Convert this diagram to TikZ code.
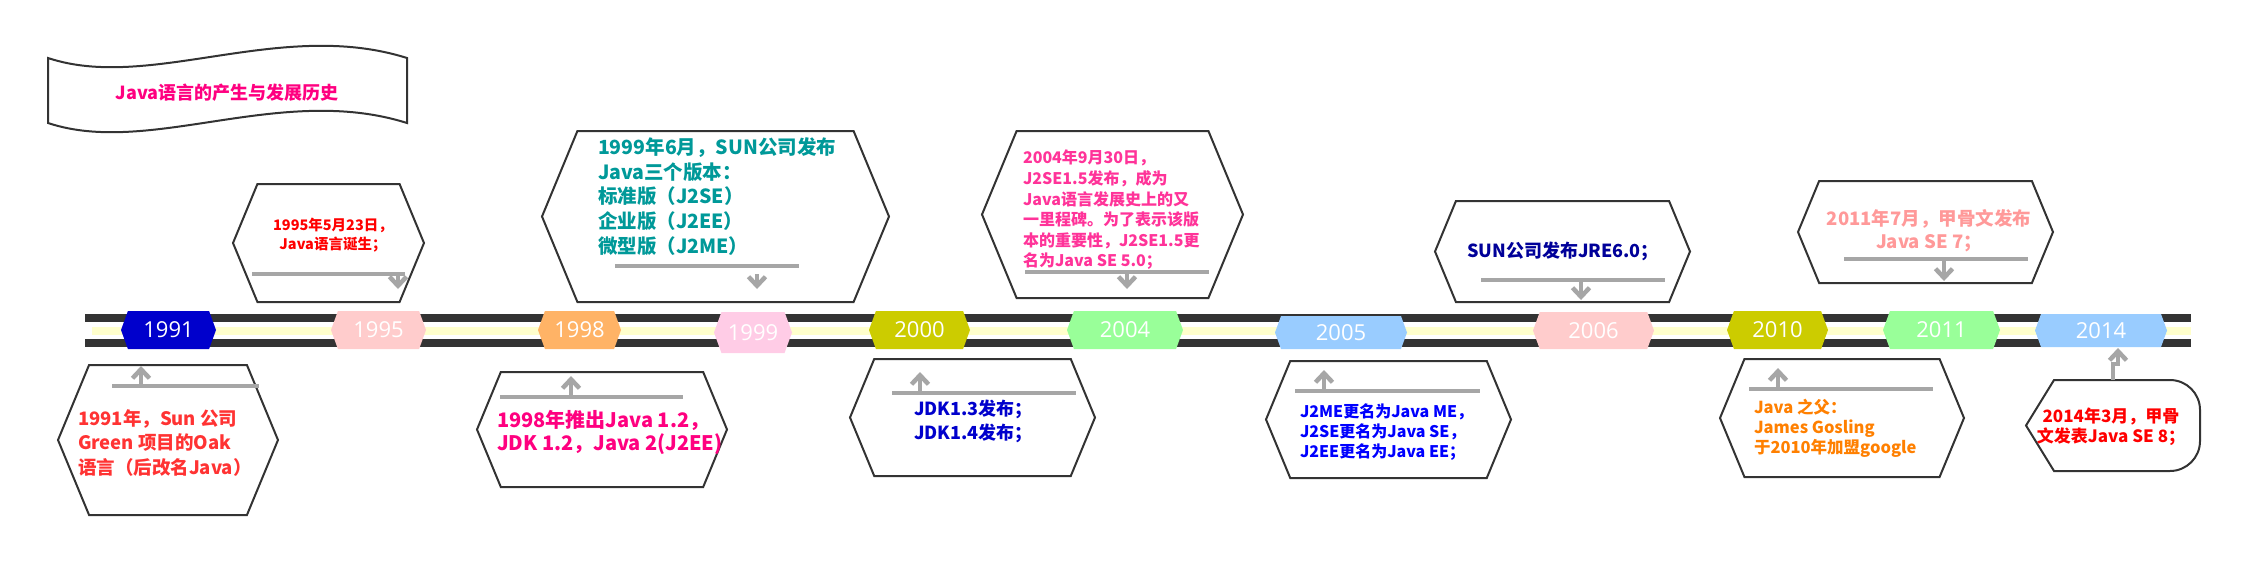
\documentclass[tikz,border=0pt]{standalone}
\usepackage{fontspec}
\setmainfont{Noto Sans CJK SC}
\newfontfamily\yearfont{Open Sans}
\usepackage{tikz}
\usetikzlibrary{positioning}
\usetikzlibrary{shapes.symbols}
\usetikzlibrary{arrows.meta}
\definecolor{barblack}{HTML}{333333}
\definecolor{baryellow}{HTML}{FFFFCC}
\definecolor{lgray}{HTML}{A6A6A6}
\definecolor{titlepink}{HTML}{FF0080}
\definecolor{tabblue}{HTML}{0000CC}
\definecolor{tabpink}{HTML}{FFCCCC}
\definecolor{taborange}{HTML}{FFB366}
\definecolor{tabrose}{HTML}{FFCCE6}
\definecolor{tabolive}{HTML}{CCCC00}
\definecolor{tabgreen}{HTML}{99FF99}
\definecolor{tabsky}{HTML}{99CCFF}
\definecolor{teal}{HTML}{009999}
\definecolor{hotpink}{HTML}{FF3399}
\definecolor{navy}{HTML}{000099}
\definecolor{salmon}{HTML}{FF9999}
\definecolor{brightred}{HTML}{FF3333}
\definecolor{orange}{HTML}{FF8000}
\newcommand{\boxfont}[2]{\fontsize{#1pt}{#2pt}\selectfont\bfseries}

\begin{document}
\begin{tikzpicture}[x=1pt,y=-1pt,every node/.style={inner sep=0,outer sep=0},
	tab/.style={shape=signal,signal to=west and east,signal pointer angle=140,text=white,font=\yearfont\fontsize{22pt}{22pt}\selectfont},
	box/.style={shape=signal,signal to=west and east,signal pointer angle=135,draw=barblack,line width=2pt,fill=white},
	gline/.style={draw=lgray,line width=3.5pt},
	garrow/.style={gline,-{Straight Barb[length=9pt,width=17pt,line width=4.5pt]}}]
	\useasboundingbox (0,0) rectangle (2261,576);
	% title banner
	\draw[draw=barblack,line width=2pt] (48,58) .. controls (150,92) and (280,18) .. (407,58) -- (407,123) .. controls (280,83) and (150,157) .. (48,123) -- cycle;
	\node (title) [font=\boxfont{18}{22},text=titlepink] at (227,93) {Java语言的产生与发展历史};
	% time line
	\fill[barblack] (85,314) rectangle (2191,322);
	\fill[baryellow] (92,327) rectangle (2191,335);
	\fill[barblack] (85,339) rectangle (2191,347);
	\foreach \yr/\cx/\w/\cy/\h/\col in {1991/168.5/95/330/38/tabblue,1995/378.5/95/330/38/tabpink,1998/579.5/83/330/38/taborange,1999/753/78/332.5/41/tabrose,2000/919.5/101/330/38/tabolive,2004/1125/116/330/38/tabgreen,2005/1341/132/332.5/33/tabsky,2006/1593.5/121/330.5/37/tabpink,2010/1777.5/101/330/38/tabolive,2011/1941.5/117/330/38/tabgreen,2014/2101/132/330.5/33/tabsky}
		\node (t\yr) [tab,fill=\col,minimum width=\w pt,minimum height=\h pt] at (\cx,\cy) {\yr};
	% upper boxes
	\node (b1995) [box,minimum width=191pt,minimum height=118pt] at (328.5,243) {};
	\node (b1999) [box,minimum width=347pt,minimum height=171pt] at (715.5,216.5) {};
	\node (b2004) [box,minimum width=261pt,minimum height=167pt] at (1112.5,214.5) {};
	\node (b2006) [box,minimum width=255pt,minimum height=101pt] at (1562.5,251.5) {};
	\node (b2011) [box,minimum width=255pt,minimum height=102pt] at (1925.5,232) {};
	% lower boxes
	\node (b1991) [box,minimum width=220pt,minimum height=150pt] at (168,440) {};
	\node (b1998) [box,minimum width=250pt,minimum height=115pt] at (602,429.5) {};
	\node (b2000) [box,minimum width=245pt,minimum height=117pt] at (972.5,417.5) {};
	\node (b2005) [box,minimum width=245pt,minimum height=117pt] at (1388.5,419.5) {};
	\node (b2010) [box,minimum width=244pt,minimum height=118pt] at (1842,418) {};
	\draw[draw=barblack,line width=2pt,fill=white] (2026,425.5) -- (2054,380) -- (2170,380) arc(-90:0:30) -- (2200,441) arc(0:90:30) -- (2054,471) -- cycle;
	\coordinate (b2014top) at (2113,380);
	% texts
	\node (n1995) [font=\boxfont{14.5}{19},text=red,align=center] at (333,235.5) {1995年5月23日，\\Java语言诞生；};
	\node (n1999) [font=\boxfont{19.5}{24.75},text=teal,align=left,anchor=west] at (598,196.5) {1999年6月，SUN公司发布\\Java三个版本：\\标准版（J2SE）\\企业版（J2EE）\\微型版（J2ME）};
	\node (n2004) [font=\boxfont{16}{20.6},text=hotpink,align=left,anchor=west] at (1023,210) {2004年9月30日，\\J2SE1.5发布，成为\\Java语言发展史上的又\\一里程碑。为了表示该版\\本的重要性，J2SE1.5更\\名为Java SE 5.0；};
	\node (n2006) [font=\boxfont{18}{22},text=navy] at (1563,251) {SUN公司发布JRE6.0；};
	\node (n2011) [font=\boxfont{18.5}{23},text=salmon,align=center] at (1929,230.5) {2011年7月，甲骨文发布\\Java SE 7；};
	\node (n1991) [font=\boxfont{18.5}{24.5},text=brightred,align=left,anchor=west] at (78,442.5) {1991年，Sun 公司\\Green 项目的Oak\\语言（后改名Java）};
	\node (n1998) [font=\boxfont{20}{23.5},text=titlepink,align=left,anchor=west] at (497,432.5) {1998年推出Java 1.2，\\JDK 1.2，Java 2(J2EE)};
	\node (n2000) [font=\boxfont{18}{24},text=tabblue,align=left,anchor=west] at (914,421) {JDK1.3发布；\\JDK1.4发布；};
	\node (n2005) [font=\boxfont{16}{20},text=blue,align=left,anchor=west] at (1300,432) {J2ME更名为Java ME，\\J2SE更名为Java SE，\\J2EE更名为Java EE；};
	\node (n2010) [font=\boxfont{16.5}{20},text=orange,align=left,anchor=west] at (1754,428) {Java 之父：\\James Gosling\\于2010年加盟google};
	\node (n2014) [font=\boxfont{17}{20},text=red,align=center] at (2111,427) {2014年3月，甲骨\\文发表Java SE 8；};
	% gray lines and arrows
	\draw[gline] (252,274) -- (405,274);
	\draw[garrow] (398,274) -- (398,289);
	\draw[gline] (615,266) -- (799,266);
	\draw[garrow] (757,274) -- (757,289);
	\draw[gline] (1025,272) -- (1209,272);
	\draw[garrow] (1127,272) -- (1127,289);
	\draw[gline] (1481,280) -- (1665,280);
	\draw[garrow] (1581,280) -- (1581,300);
	\draw[gline] (1844,259) -- (2028,259);
	\draw[garrow] (1944,259) -- (1944,281);
	\draw[gline] (112,386) -- (259,386);
	\draw[garrow] (141,386) -- (141,366);
	\draw[gline] (500,397) -- (683,397);
	\draw[garrow] (571,397) -- (571,376);
	\draw[gline] (892,393) -- (1076,393);
	\draw[garrow] (920,393) -- (920,372);
	\draw[gline] (1295,391) -- (1480,391);
	\draw[garrow] (1324,391) -- (1324,370);
	\draw[gline] (1749,389) -- (1933,389);
	\draw[garrow] (1778,389) -- (1778,368);
	\draw[garrow] (b2014top) -- ++(0,-16) -- ++(5,0) -- ([xshift=17pt,yshift=-1pt]t2014.south);
\end{tikzpicture}
\end{document}
